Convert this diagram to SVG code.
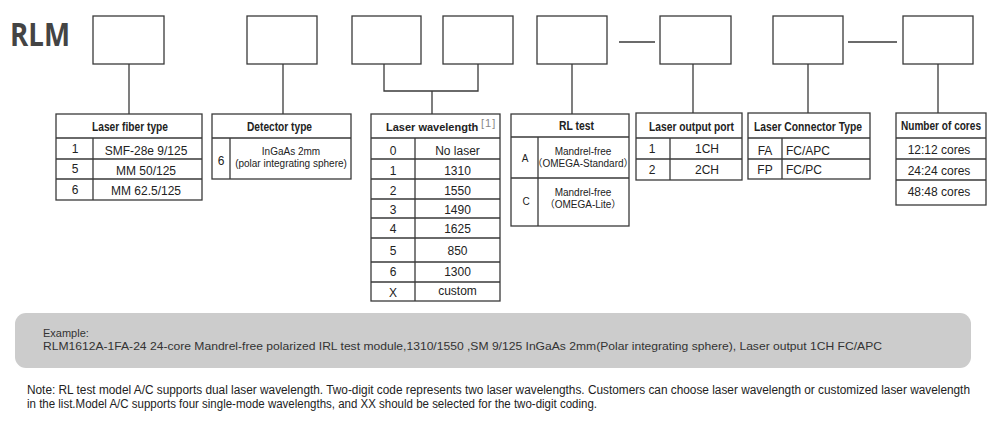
<svg xmlns="http://www.w3.org/2000/svg" width="1000" height="430" viewBox="0 0 1000 430">
<style>
  .bx{fill:#fff;stroke:#3a3a3a;stroke-width:1.3}
  .ln{fill:none;stroke:#3a3a3a;stroke-width:1.3}
  .hd{font-family:"Liberation Sans",Arial,sans-serif;font-weight:bold;font-size:12.5px;fill:#222;text-anchor:middle}
  .c{font-family:"Liberation Sans",Arial,sans-serif;font-size:12px;fill:#222;text-anchor:middle}
  .l{font-family:"Liberation Sans",Arial,sans-serif;font-size:12px;fill:#222}
  .s{font-family:"Liberation Sans","Noto Sans CJK SC",sans-serif;font-size:10px;fill:#222;text-anchor:middle}
  .ex{font-family:"Liberation Sans",Arial,sans-serif;font-size:11px;fill:#333}
  .nt{font-family:"Liberation Sans",Arial,sans-serif;font-size:12px;fill:#222}
</style>
<rect width="1000" height="430" fill="#fff"/>
<text x="10" y="46" font-family="'Open Sans','Liberation Sans',sans-serif" font-weight="bold" font-size="33" fill="#444" textLength="60" lengthAdjust="spacingAndGlyphs">RLM</text>

<g id="connectors">
  <path class="ln" d="M129,64 V114"/>
  <path class="ln" d="M283,64 V114"/>
  <path class="ln" d="M384,64 V91 H478 V64 M432,91 V114"/>
  <path class="ln" d="M572,64 V114"/>
  <path class="ln" d="M619,42 H655"/>
  <path class="ln" d="M693,64 V113"/>
  <path class="ln" d="M808,64 V113"/>
  <path class="ln" d="M848,42 H897"/>
  <path class="ln" d="M938,64 V113"/>
</g>

<g id="box1"><rect class="bx" x="93" y="16" width="71" height="48"/></g>
<g id="box2"><rect class="bx" x="247" y="16" width="70" height="48"/></g>
<g id="box3"><rect class="bx" x="352" y="16" width="69" height="48"/></g>
<g id="box4"><rect class="bx" x="443" y="16" width="70" height="48"/></g>
<g id="box5"><rect class="bx" x="537" y="16" width="70" height="48"/></g>
<g id="box6"><rect class="bx" x="660" y="16" width="71" height="48"/></g>
<g id="box7"><rect class="bx" x="773" y="16" width="70" height="48"/></g>
<g id="box8"><rect class="bx" x="903" y="16" width="70" height="48"/></g>

<g id="laser-fiber-type">
  <rect class="bx" x="56" y="114" width="146" height="86"/>
  <path class="ln" d="M56,138 H202 M56,159 H202 M56,179 H202 M93,138 V200"/>
  <text class="hd" x="130" y="131" textLength="76" lengthAdjust="spacingAndGlyphs">Laser fiber type</text>
  <text class="c" x="75" y="153">1</text><text class="c" x="146" y="155">SMF-28e 9/125</text>
  <text class="c" x="75" y="173">5</text><text class="c" x="146" y="175">MM 50/125</text>
  <text class="c" x="75" y="194">6</text><text class="c" x="146" y="195">MM 62.5/125</text>
</g>

<g id="detector-type">
  <rect class="bx" x="212" y="114" width="139" height="65"/>
  <path class="ln" d="M212,138 H351 M230,138 V179"/>
  <text class="hd" x="279.5" y="131" textLength="65" lengthAdjust="spacingAndGlyphs">Detector type</text>
  <text class="c" x="221" y="165">6</text>
  <text class="s" x="291" y="155">InGaAs 2mm</text>
  <text class="s" x="291" y="167">(polar integrating sphere)</text>
</g>

<g id="laser-wavelength">
  <rect class="bx" x="371" y="114" width="129" height="187"/>
  <path class="ln" d="M371,138 H500 M371,159 H500 M371,179 H500 M371,199 H500 M371,218 H500 M371,238 H500 M371,262 H500 M371,282 H500 M415,138 V301"/>
  <text x="386" y="131" font-family="'Liberation Sans',Arial,sans-serif" font-weight="bold" font-size="11" fill="#222">Laser wavelength</text>
  <text x="481" y="127" font-family="'Liberation Sans',Arial,sans-serif" font-size="11" fill="#888" letter-spacing="1">[1]</text>
  <text class="c" x="393" y="155">0</text><text class="c" x="457.5" y="155">No laser</text>
  <text class="c" x="393" y="175">1</text><text class="c" x="457.5" y="175">1310</text>
  <text class="c" x="393" y="195">2</text><text class="c" x="457.5" y="195">1550</text>
  <text class="c" x="393" y="214">3</text><text class="c" x="457.5" y="214">1490</text>
  <text class="c" x="393" y="233">4</text><text class="c" x="457.5" y="233">1625</text>
  <text class="c" x="393" y="255">5</text><text class="c" x="457.5" y="255">850</text>
  <text class="c" x="393" y="276">6</text><text class="c" x="457.5" y="276">1300</text>
  <text class="c" x="393" y="297">X</text><text class="c" x="457.5" y="295">custom</text>
</g>

<g id="rl-test">
  <rect class="bx" x="511" y="114" width="118" height="112"/>
  <path class="ln" d="M511,137 H629 M511,178 H629 M538,137 V226"/>
  <text class="hd" x="576.5" y="130" textLength="35" lengthAdjust="spacingAndGlyphs">RL test</text>
  <text class="s" x="525" y="162">A</text>
  <text class="s" x="583" y="155">Mandrel-free</text>
  <text class="s" x="583" y="167">（OMEGA-Standard）</text>
  <text class="s" x="526" y="205">C</text>
  <text class="s" x="583" y="196">Mandrel-free</text>
  <text class="s" x="583" y="208">（OMEGA-Lite）</text>
</g>

<g id="laser-output-port">
  <rect class="bx" x="636" y="113" width="106" height="67"/>
  <path class="ln" d="M636,138 H742 M636,159 H742 M670,138 V180"/>
  <text class="hd" x="691.5" y="131" textLength="85" lengthAdjust="spacingAndGlyphs">Laser output port</text>
  <text class="c" x="652" y="153">1</text><text class="c" x="707" y="153">1CH</text>
  <text class="c" x="652" y="174">2</text><text class="c" x="707" y="174">2CH</text>
</g>

<g id="laser-connector-type">
  <rect class="bx" x="748" y="113" width="122" height="66"/>
  <path class="ln" d="M748,138 H870 M748,159 H870 M782,138 V179"/>
  <text class="hd" x="808" y="131" textLength="108" lengthAdjust="spacingAndGlyphs">Laser Connector Type</text>
  <text class="c" x="765" y="155">FA</text><text class="l" x="786" y="155">FC/APC</text>
  <text class="c" x="765" y="174">FP</text><text class="l" x="786" y="174">FC/PC</text>
</g>

<g id="number-of-cores">
  <rect class="bx" x="896" y="113" width="90" height="92"/>
  <path class="ln" d="M896,138 H986 M896,159 H986 M896,180 H986"/>
  <text class="hd" x="941" y="130" textLength="80" lengthAdjust="spacingAndGlyphs">Number of cores</text>
  <text class="c" x="939" y="154">12:12 cores</text>
  <text class="c" x="939" y="175">24:24 cores</text>
  <text class="c" x="939" y="196">48:48 cores</text>
</g>

<g id="example">
  <rect x="15" y="313" width="956" height="55" rx="11" fill="#cccccc"/>
  <text class="ex" x="43" y="337">Example:</text>
  <text class="ex" x="43" y="350" textLength="839" lengthAdjust="spacingAndGlyphs">RLM1612A-1FA-24 24-core Mandrel-free polarized IRL test module,1310/1550 ,SM 9/125  InGaAs 2mm(Polar integrating sphere), Laser output 1CH FC/APC</text>
</g>

<g id="note">
  <text class="nt" x="27" y="394" textLength="943" lengthAdjust="spacingAndGlyphs">Note: RL test model A/C supports dual laser wavelength. Two-digit code represents two laser wavelengths. Customers can choose laser wavelength or customized laser wavelength</text>
  <text class="nt" x="27" y="408" textLength="570" lengthAdjust="spacingAndGlyphs">in the list.Model A/C supports four single-mode wavelengths, and XX should be selected for the two-digit coding.</text>
</g>
</svg>
